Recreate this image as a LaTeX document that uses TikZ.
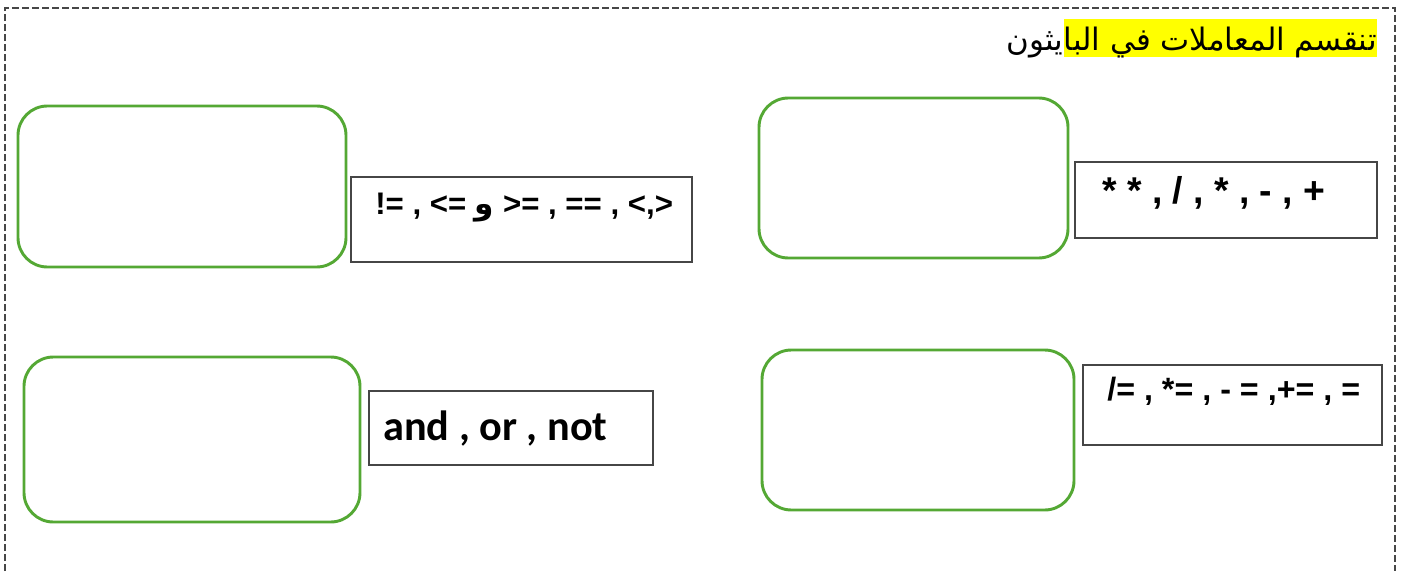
\documentclass[tikz,border=0pt]{standalone}
\usepackage{fontspec}
\setmainfont{Liberation Sans}
\newfontfamily\arabicfont[Script=Arabic]{DejaVu Sans}
\newfontfamily\calfont{Carlito}
\TeXXeTstate=1
\usetikzlibrary{fit}
\definecolor{boxgreen}{RGB}{84,168,52}
\definecolor{framegray}{RGB}{70,70,70}
\definecolor{hilite}{RGB}{255,255,0}
\begin{document}
\begin{tikzpicture}[x=0.75pt,y=-0.75pt,
  greenbox/.style={draw=boxgreen, line width=2.2pt, rounded corners=22pt, inner sep=0pt},
  opbox/.style={draw=framegray, line width=1pt, inner sep=0pt},
  optext/.style={font=\fontsize{#1}{30}\selectfont\bfseries, anchor=base west, inner sep=0pt},
  logtext/.style={font=\calfont\fontsize{31.7}{36}\selectfont\bfseries, anchor=base west, inner sep=0pt},
  titletext/.style={font=\arabicfont\fontsize{23.2}{28}\selectfont, inner sep=0pt, text height=23pt, text depth=5.5pt},
]
\useasboundingbox (0,0) rectangle (1402,571);
\draw[framegray, line width=1pt, dash pattern=on 5pt off 2.5pt] (5,571) -- (5,8) -- (1395,8) -- (1395,571);

% title
\node[titletext, fill=hilite, anchor=base east] (t1) at (1377,50) {\beginR تنقسم المعاملات في البا\endR};
\node[titletext, anchor=base east] (t2) at (t1.base west) {\beginR يثون\endR};

% green boxes
\node[greenbox, fit={(18,106) (346,267)}] (g1) {};
\node[greenbox, fit={(759,98) (1068,258)}] (g2) {};
\node[greenbox, fit={(24,357) (360,522)}] (g3) {};
\node[greenbox, fit={(762,350) (1074,510)}] (g4) {};

% operator boxes
\node[opbox, fit={(351,177) (692,262)}] (b1) {};
\node[opbox, fit={(1075,162) (1377,238)}] (b2) {};
\node[opbox, fit={(1083,365) (1382,445)}] (b3) {};
\node[opbox, fit={(369,391) (653,465)}] (b4) {};

\node[optext=23.4] (o1) at (375,214) {!= , <= {\arabicfont و} >= , == , <,>};
\node[optext=28] (o2) at (1102,203) {* * , / , * , - , +};
\node[optext=24.2] (o3) at (1107,400) {/= , *= , - = ,+= , =};
\node[logtext] (o4) at (383,440) {and , or , not};
\end{tikzpicture}
\end{document}
